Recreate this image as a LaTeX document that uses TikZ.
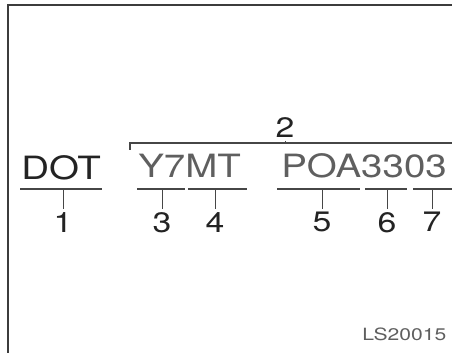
\documentclass[tikz,border=0pt]{standalone}
\usepackage{xcolor}
\usepackage{fontspec}
\usepackage{tikz}
\usetikzlibrary{positioning}
\newfontfamily\codefont[FakeStretch=1.2]{TeX Gyre Heros}
\newfontfamily\refcodefont[FakeStretch=1.25]{TeX Gyre Heros}
\definecolor{inkdark}{RGB}{35,35,35}
\definecolor{inkgray}{RGB}{95,95,95}
\definecolor{linegray}{RGB}{70,70,70}
\definecolor{framegray}{RGB}{60,60,60}
\tikzset{
  % --- tyre code text ---------------------------------------------------------
  codetext/.style={inner sep=0pt, anchor=base west, font=\codefont\fontsize{22.8}{24}\selectfont},
  codemain/.style={codetext, text=inkdark},
  codepart/.style={codetext, text=inkgray},
  % --- callouts ---------------------------------------------------------------
  calloutnum/.style={inner sep=2pt, text=inkdark, font=\codefont\fontsize{20}{22}\selectfont},
  underline/.style={draw=linegray, line width=0.9pt},
  tickline/.style={draw=linegray, line width=0.6pt},
  bracketline/.style={draw=linegray, line width=0.8pt},
  framebox/.style={draw=framegray, line width=1.1pt},
  refcode/.style={inner sep=0pt, anchor=base west, text=inkgray, font=\refcodefont\fontsize{12}{14}\selectfont},
}
\begin{document}
\begin{tikzpicture}[x=0.025cm, y=-0.025cm]
    \useasboundingbox (0,0) rectangle (452,353);
    \clip (0,0) rectangle (452,353);
    \draw[framebox] (8,360) -- (8,5) -- (460,5);

    % code text
    \node[codemain] (dot) at (21,180) {DOT};
    \node[codepart] (plant) at (138,178) {Y7MT};
    \node[codepart] (spec) at (281,178) {POA3303};

    % underlines
    \draw[underline] (20,189) -- (102,189);
    \draw[underline] (137,189) -- (185,189);
    \draw[underline] (188,189) -- (247,189);
    \draw[underline] (277,189) -- (360,189);
    \draw[underline] (365,189) -- (407,189);
    \draw[underline] (413,189) -- (460,189);

    % bracket over 3..7
    \coordinate (bl) at (130,150);
    \coordinate (b2) at (285,143);
    \draw[bracketline] (bl) -- (130,143) -- (460,143);
    \node[calloutnum, above=0.05cm of b2] (n2) {2};
    \draw[tickline] (n2) -- (b2);

    % ticks and numbers
    \coordinate (t1) at (63,189);
    \coordinate (t3) at (162,189);
    \coordinate (t4) at (215,189);
    \coordinate (t5) at (322,189);
    \coordinate (t6) at (387,189);
    \coordinate (t7) at (432,189);
    \node[calloutnum, below=0.5cm of t1] (n1) {1};
    \node[calloutnum, below=0.5cm of t3] (n3) {3};
    \node[calloutnum, below=0.5cm of t4] (n4) {4};
    \node[calloutnum, below=0.5cm of t5] (n5) {5};
    \node[calloutnum, below=0.5cm of t6] (n6) {6};
    \node[calloutnum, below=0.5cm of t7] (n7) {7};
    \draw[tickline] (t1) -- (n1);
    \draw[tickline] (t3) -- (n3);
    \draw[tickline] (t4) -- (n4);
    \draw[tickline] (t5) -- (n5);
    \draw[tickline] (t6) -- (n6);
    \draw[tickline] (t7) -- (n7);

    \node[refcode] (ref) at (362,340) {LS20015};
  \end{tikzpicture}
\end{document}
